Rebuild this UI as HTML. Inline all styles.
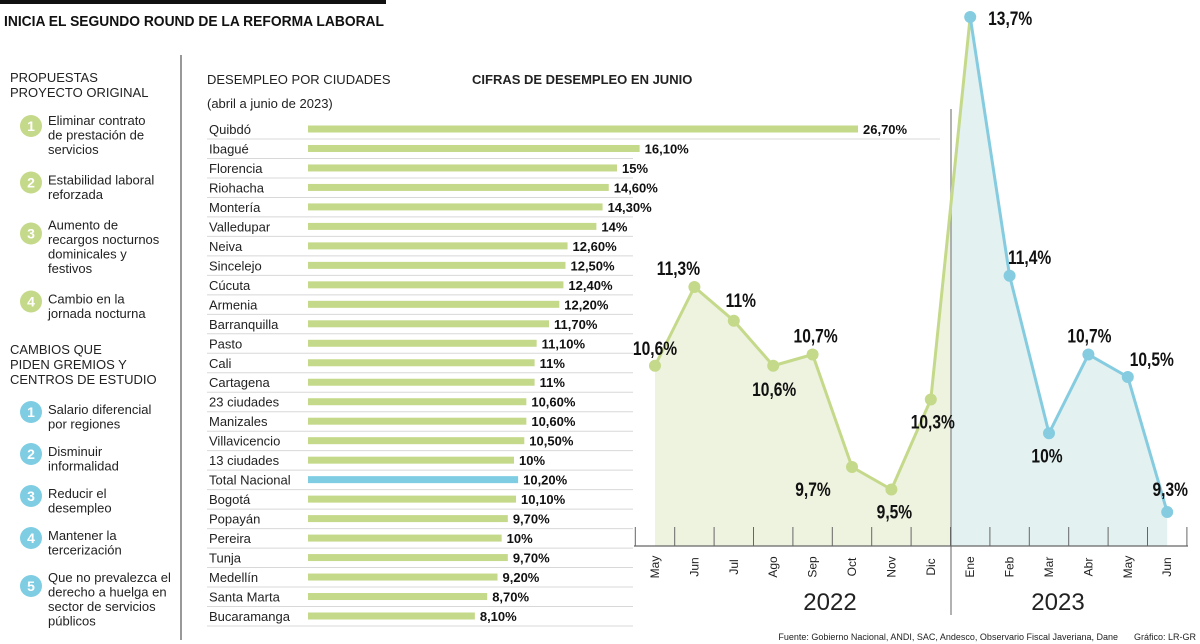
<!DOCTYPE html>
<html><head><meta charset="utf-8"><style>
body{margin:0;background:#fff;}
svg{display:block;font-family:"Liberation Sans",sans-serif;}
.n{font-family:"Liberation Sans Narrow","Liberation Sans",sans-serif;font-weight:bold;}
</style></head><body>
<svg id="c" width="1200" height="644" viewBox="0 0 1200 644">
<rect x="0" y="0" width="386" height="4" fill="#111"/>
<text x="4" y="26" font-size="15" font-weight="bold" fill="#111" textLength="380" lengthAdjust="spacingAndGlyphs">INICIA EL SEGUNDO ROUND DE LA REFORMA LABORAL</text>
<line x1="181" y1="55" x2="181" y2="640" stroke="#555" stroke-width="1.2"/>
<g font-size="13" fill="#222">
<text x="10" y="82"><tspan x="10">PROPUESTAS</tspan><tspan x="10" dy="15">PROYECTO ORIGINAL</tspan></text>
<g id="list1"></g>
<text x="10" y="354"><tspan x="10">CAMBIOS QUE</tspan><tspan x="10" dy="15">PIDEN GREMIOS Y</tspan><tspan x="10" dy="15">CENTROS DE ESTUDIO</tspan></text>
<g id="list2"></g>
</g>
<text x="207" y="84" font-size="13" fill="#222">DESEMPLEO POR CIUDADES</text>
<text x="207" y="108" font-size="13" fill="#222">(abril a junio de 2023)</text>
<text x="472" y="84" font-size="13" font-weight="bold" fill="#222">CIFRAS DE DESEMPLEO EN JUNIO</text>
<g id="bars"></g>
<g id="line"></g>
<text x="1118" y="640" font-size="9" fill="#222" text-anchor="end">Fuente: Gobierno Nacional, ANDI, SAC, Andesco, Observario Fiscal Javeriana, Dane</text>
<text x="1196" y="640" font-size="9" fill="#222" text-anchor="end">Gráfico: LR-GR</text>
</svg>
<script>
const cities=["Quibdó","Ibagué","Florencia","Riohacha","Montería","Valledupar","Neiva","Sincelejo","Cúcuta","Armenia","Barranquilla","Pasto","Cali","Cartagena","23 ciudades","Manizales","Villavicencio","13 ciudades","Total Nacional","Bogotá","Popayán","Pereira","Tunja","Medellín","Santa Marta","Bucaramanga"];
const cityValues=[26.7,16.1,15,14.6,14.3,14,12.6,12.5,12.4,12.2,11.7,11.1,11,11,10.6,10.6,10.5,10,10.2,10.1,9.7,9.4,9.7,9.2,8.7,8.1];
const cityLabels=["26,70%","16,10%","15%","14,60%","14,30%","14%","12,60%","12,50%","12,40%","12,20%","11,70%","11,10%","11%","11%","10,60%","10,60%","10,50%","10%","10,20%","10,10%","9,70%","10%","9,70%","9,20%","8,70%","8,10%"];
const months=["May","Jun","Jul","Ago","Sep","Oct","Nov","Dic","Ene","Feb","Mar","Abr","May","Jun"];
const rates=[10.6,11.3,11,10.6,10.7,9.7,9.5,10.3,13.7,11.4,10,10.7,10.5,9.3];
const rateLabels=["10,6%","11,3%","11%","10,6%","10,7%","9,7%","9,5%","10,3%","13,7%","11,4%","10%","10,7%","10,5%","9,3%"];
const years=["2022","2023"];
const list1=[["Eliminar contrato","de prestación de","servicios"],["Estabilidad laboral","reforzada"],["Aumento de","recargos nocturnos","dominicales y","festivos"],["Cambio en la","jornada nocturna"]];
const list2=[["Salario diferencial","por regiones"],["Disminuir","informalidad"],["Reducir el","desempleo"],["Mantener la","tercerización"],["Que no prevalezca el","derecho a huelga en","sector de servicios","públicos"]];
const NS="http://www.w3.org/2000/svg";
function mk(p,tag,a,txt){const e=document.createElementNS(NS,tag);for(const k in a)e.setAttribute(k,a[k]);if(txt!==undefined)e.textContent=txt;p.appendChild(e);return e;}
function drawList(g,items,y0,color,gap){let y=y0;items.forEach((lines,i)=>{
 const c=mk(g,'circle',{cx:31,cy:y-5+(lines.length-1)*3,r:11,fill:color});
 
 
 const n=mk(g,'text',{x:31,y:y-5+(lines.length-1)*3+5,'text-anchor':'middle',fill:'#fff','font-weight':'bold','font-size':14},String(i+1));
 
 
 const t=mk(g,'text',{x:48,y:y});
 
 
 lines.forEach((l,j)=>mk(t,'tspan',{x:48,dy:j?14.5:0},l));
 y+=lines.length*14.5+gap;});}
drawList(document.getElementById('list1'),list1,125,'#c5d98a',16);
drawList(document.getElementById('list2'),list2,414,'#7fcde3',13);
const bg=document.getElementById('bars');
const bx0=308,bscale=550/26.7,by0=129,bstep=19.48;
const bx=v=>bx0+v*bscale, by=i=>by0+i*bstep;
cities.forEach((c,i)=>{const y=by(i);
 const t=mk(bg,'text',{x:209,y:y+5,'font-size':13,fill:'#222'},c);
 
 
 const r=mk(bg,'rect',{x:bx0,y:y-3.5,width:bx(cityValues[i])-bx0,height:7,fill:c==='Total Nacional'?'#7fcde3':'#c5d98a'});
 
 
 const v=mk(bg,'text',{x:bx(cityValues[i])+5,y:y+5,'font-size':13,'font-weight':'bold',fill:'#111'},cityLabels[i]);
 
 
 const l=mk(bg,'line',{x1:207,x2:i===0?940:633,y1:y+10,y2:y+10,stroke:'#d8d8d8','stroke-width':1});
 
 
});
const lg=document.getElementById('line');
const lx0=655,lstep=39.4,ly0=17,lscale=112.5,base=546,split=951;
const lx=i=>lx0+i*lstep, ly=v=>ly0+(13.7-v)*lscale;
const defs=mk(lg,'defs',{});
const cpA=mk(defs,'clipPath',{id:'cA'});mk(cpA,'rect',{x:0,y:0,width:split,height:644});
const cpB=mk(defs,'clipPath',{id:'cB'});mk(cpB,'rect',{x:split,y:0,width:600,height:644});
let pts=rates.map((v,i)=>lx(i)+','+ly(v)).join(' ');
const area='M'+lx(0)+','+base+' L'+pts.split(' ').join(' L')+' L'+lx(rates.length-1)+','+base+' Z';
const a1=mk(lg,'path',{d:area,fill:'#eef3e0','clip-path':'url(#cA)'});


const a2=mk(lg,'path',{d:area,fill:'#e3f1f1','clip-path':'url(#cB)'});


const dv=mk(lg,'line',{x1:split,x2:split,y1:109,y2:615,stroke:'#999','stroke-width':1.5});


const ax=mk(lg,'line',{x1:634,x2:1188,y1:base,y2:base,stroke:'#666','stroke-width':1.2});


for(let i=0;i<=rates.length;i++){const x=lx(i)-lstep/2;
 const tk=mk(lg,'line',{x1:x,x2:x,y1:527,y2:base,stroke:'#666','stroke-width':1});
 
 }
const p1=mk(lg,'polyline',{points:rates.slice(0,9).map((v,i)=>lx(i)+','+ly(v)).join(' '),fill:'none',stroke:'#c5d98a','stroke-width':3});


const p2=mk(lg,'polyline',{points:rates.slice(8).map((v,i)=>lx(i+8)+','+ly(v)).join(' '),fill:'none',stroke:'#86cce0','stroke-width':3});


const lblOff=[[0,-18],[-16,-19],[7,-21],[1,23],[3,-19],[-39,22],[3,22],[2,22],[40,1],[20,-19],[-2,22],[1,-19],[24,-18],[3,-23]];
rates.forEach((v,i)=>{
 const c=mk(lg,'circle',{cx:lx(i),cy:ly(v),r:6,fill:i<8?'#c5d98a':'#86cce0'});
 
 
 const t=mk(lg,'text',{x:0,y:0,'text-anchor':'middle','font-size':19,fill:'#111',class:'n',transform:'translate('+(lx(i)+lblOff[i][0])+','+(ly(v)+lblOff[i][1]+7)+') scale(0.82,1)'},rateLabels[i]);
 
 
 const m=mk(lg,'text',{x:0,y:0,'font-size':12,fill:'#222','text-anchor':'middle',transform:'translate('+(lx(i)+4)+',567) rotate(-90)'},months[i]);
 
 
});
years.forEach((y,k)=>{const t=mk(lg,'text',{x:k?1058:830,y:610,'font-size':24,fill:'#222','text-anchor':'middle'},y);
 
 });
</script>
</body></html>
